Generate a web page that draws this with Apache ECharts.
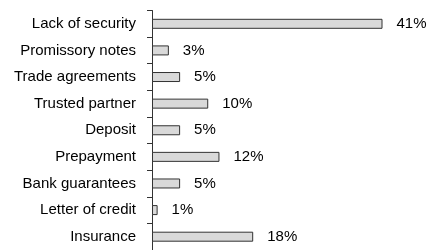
<!DOCTYPE html>
<html>
<head>
<meta charset="utf-8">
<script src="https://cdn.jsdelivr.net/npm/echarts@6/dist/echarts.min.js"></script>
<style>
  html, body { margin: 0; padding: 0; background: #fff; }
  #main { width: 429px; height: 250px; }
</style>
</head>
<body>
<div id="main"></div>
<script>
const categories = ['Lack of security', 'Promissory notes', 'Trade agreements', 'Trusted partner',
    'Deposit', 'Prepayment', 'Bank guarantees', 'Letter of credit', 'Insurance'];
const shares = [41, 3, 5, 10, 5, 12, 5, 1, 18];

const myChart = echarts.init(document.getElementById('main'));
myChart.setOption({
    animation: false,
    textStyle: { fontFamily: 'Liberation Sans, Arial, sans-serif' },
    grid: { left: 152, right: 24, top: 10.5, bottom: -3.5 },
    xAxis: {
        type: 'value',
        min: 0,
        max: 45,
        show: false
    },
    yAxis: {
        type: 'category',
        data: categories,
        inverse: true,
        axisLine: { show: true, lineStyle: { color: '#333', width: 1 } },
        axisTick: { show: true, inside: false, length: 5, lineStyle: { color: '#333', width: 1 } },
        axisLabel: { color: '#000', fontSize: 15, margin: 16 }
    },
    series: [{
        type: 'bar',
        data: shares,
        barWidth: 10,
        itemStyle: { color: '#d9d9d9', borderColor: '#333', borderWidth: 1 },
        label: {
            show: true,
            position: 'right',
            distance: 14,
            color: '#000',
            fontSize: 15,
            formatter: '{c}%'
        }
    }]
});
</script>
</body>
</html>
